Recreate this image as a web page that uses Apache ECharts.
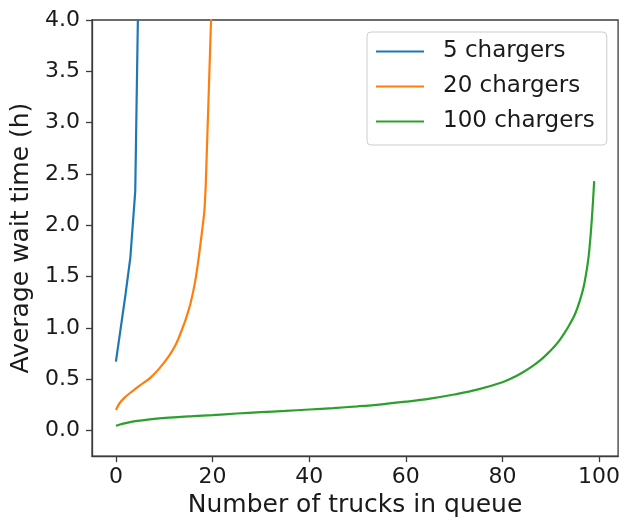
<!DOCTYPE html>
<html>
<head>
<meta charset="utf-8">
<script src="https://cdn.jsdelivr.net/npm/echarts@6/dist/echarts.min.js"></script>
<style>
  html, body { margin: 0; padding: 0; background: #fff; }
  #chart { width: 623px; height: 523px; }
</style>
</head>
<body>
<div id="chart"></div>
<script>
// values
const seriesNames = ['5 chargers', '20 chargers', '100 chargers']
const colors = ['#1f77b4', '#ff7f0e', '#2ca02c']

const xTicks = [0, 20, 40, 60, 80, 100]
const yTicks = [0, 0.5, 1, 1.5, 2, 2.5, 3, 3.5, 4]

// 5 chargers
const trucks5 = [0, 1, 2, 3, 4, 5]
const wait5 = [0.67, 1.0, 1.33, 1.69, 2.33, 5.4]

// 20 chargers
const trucks20 = [0, 0.76, 1.8, 2.8, 4.9, 7, 9, 11.1, 12.5, 13.5, 14.5, 15.5, 16.4, 17.1, 17.8, 18.3, 18.45, 18.6, 20]
const wait20 = [0.20, 0.265, 0.32, 0.36, 0.437, 0.508, 0.605, 0.735, 0.848, 0.962, 1.09, 1.25, 1.45, 1.67, 1.93, 2.13, 2.25, 2.4, 4.45]

// 100 chargers
const trucks100 = [0, 1, 2, 4, 7, 11, 16, 20, 25, 30, 35, 40, 45, 50, 55, 60, 65, 70, 75, 80, 82, 84, 86, 88, 90, 91, 92, 93, 94, 95, 96, 97, 98, 99]
const wait100 = [0.045, 0.06, 0.072, 0.09, 0.108, 0.125, 0.14, 0.15, 0.165, 0.178, 0.19, 0.204, 0.218, 0.235, 0.255, 0.28, 0.31, 0.35, 0.40, 0.47, 0.51, 0.56, 0.62, 0.69, 0.78, 0.83, 0.89, 0.96, 1.04, 1.13, 1.26, 1.44, 1.76, 2.43]

const zip = (xs, ys) => xs.map((x, i) => [x, ys[i]])

const font = 'DejaVu Sans'
const ink = '#1a1a1a'
const spine = '#3c3c3c'

const chart = echarts.init(document.getElementById('chart'), null, { renderer: 'canvas' })

const lineSeries = (i, data, smooth) => ({
  name: seriesNames[i],
  type: 'line',
  data: data,
  symbol: 'none',
  smooth: smooth,
  clip: true,
  lineStyle: { color: colors[i], width: 2.2 },
  itemStyle: { color: colors[i] }
})

const option = {
  animation: false,
  backgroundColor: '#fff',
  grid: {
    left: 92, right: 3, top: 20, bottom: 65,
    show: true,
    borderColor: spine,
    borderWidth: 1.3
  },
  xAxis: {
    type: 'value',
    min: -4.95,
    max: 103.95,
    name: 'Number of trucks in queue',
    nameLocation: 'middle',
    nameGap: 28,
    nameTextStyle: { fontFamily: font, fontSize: 25, color: ink },
    axisLine: { show: true, onZero: false, lineStyle: { color: spine, width: 1.3 } },
    axisTick: { show: true, length: 6, lineStyle: { color: spine, width: 1.3 }, customValues: xTicks },
    axisLabel: { fontFamily: font, fontSize: 22, color: ink, margin: 10, customValues: xTicks },
    splitLine: { show: false }
  },
  yAxis: {
    type: 'value',
    min: -0.25,
    max: 4,
    name: 'Average wait time (h)',
    nameLocation: 'middle',
    nameGap: 56,
    nameTextStyle: { fontFamily: font, fontSize: 25, color: ink },
    axisLine: { show: true, onZero: false, lineStyle: { color: spine, width: 1.3 } },
    axisTick: { show: true, length: 6, lineStyle: { color: spine, width: 1.3 }, customValues: yTicks },
    axisLabel: {
      fontFamily: font, fontSize: 22, color: ink, margin: 12,
      customValues: yTicks,
      formatter: v => v.toFixed(1)
    },
    splitLine: { show: false }
  },
  legend: {
    orient: 'vertical',
    left: 367,
    top: 32,
    padding: [8, 12, 12, 9],
    itemWidth: 48,
    itemHeight: 22,
    itemGap: 12,
    icon: 'path://M0,0H240V11H0Z',
    backgroundColor: 'rgba(255,255,255,0.8)',
    borderColor: '#cccccc',
    borderWidth: 1,
    borderRadius: 4,
    textStyle: { fontFamily: font, fontSize: 23, color: ink, lineHeight: 22, padding: [0, 0, 0, 14] },
    data: seriesNames
  },
  series: [
    lineSeries(0, zip(trucks5, wait5), false),
    lineSeries(1, zip(trucks20, wait20), 0.3),
    lineSeries(2, zip(trucks100, wait100), 0.4)
  ]
}

chart.setOption(option)
</script>
</body>
</html>
